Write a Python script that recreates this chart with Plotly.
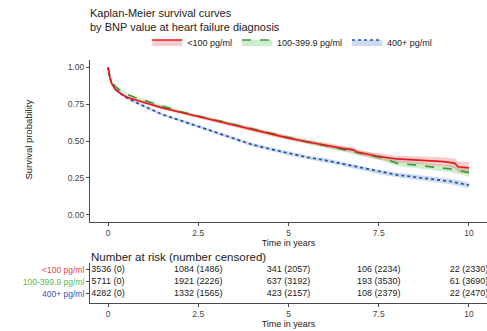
import plotly.graph_objects as go

W, H = 487, 331

# ---------------- data ----------------
groups = ["<100 pg/ml", "100-399.9 pg/ml", "400+ pg/ml"]

time_red = [0, 0.05, 0.1, 0.2, 0.3, 0.5, 0.75, 1, 1.5, 2, 2.5, 3, 3.5, 4, 4.5, 5, 5.5, 6,
            6.5, 6.8, 6.9, 7.2, 7.5, 8, 8.5, 9, 9.3, 9.6, 9.7, 10]
surv_red = [1.00, 0.93, 0.89, 0.85, 0.83, 0.80, 0.78, 0.76, 0.725, 0.695, 0.665, 0.635, 0.605,
            0.575, 0.545, 0.52, 0.495, 0.47, 0.45, 0.44, 0.425, 0.41, 0.395, 0.378, 0.372,
            0.366, 0.36, 0.35, 0.325, 0.318]
ci_red = [0.0, 0.008, 0.008, 0.008, 0.008, 0.009, 0.009, 0.01, 0.01, 0.011, 0.011, 0.012, 0.012,
          0.013, 0.013, 0.014, 0.015, 0.016, 0.017, 0.018, 0.018, 0.019, 0.02, 0.022, 0.025,
          0.028, 0.03, 0.033, 0.036, 0.04]

time_green = [0, 0.05, 0.1, 0.2, 0.3, 0.5, 0.75, 1, 1.5, 2, 2.5, 3, 3.5, 4, 4.5, 5, 5.5, 6,
              6.5, 7, 7.5, 8, 8.5, 9, 9.5, 9.8, 10]
surv_green = [1.00, 0.94, 0.91, 0.87, 0.85, 0.82, 0.795, 0.775, 0.735, 0.70, 0.67, 0.64, 0.61,
              0.58, 0.55, 0.52, 0.495, 0.47, 0.445, 0.42, 0.39, 0.35, 0.335, 0.322, 0.31,
              0.295, 0.285]
ci_green = [0.0, 0.006, 0.006, 0.006, 0.006, 0.007, 0.007, 0.008, 0.008, 0.009, 0.009, 0.01,
            0.01, 0.011, 0.011, 0.012, 0.013, 0.014, 0.015, 0.016, 0.017, 0.019, 0.02, 0.021,
            0.023, 0.025, 0.026]

time_blue = [0, 0.05, 0.1, 0.2, 0.3, 0.5, 0.75, 1, 1.5, 2, 2.5, 3, 3.5, 4, 4.5, 5, 5.5, 6,
             6.5, 7, 7.5, 8, 8.5, 9, 9.5, 10]
surv_blue = [1.00, 0.93, 0.895, 0.855, 0.83, 0.795, 0.765, 0.735, 0.68, 0.64, 0.60, 0.555,
             0.515, 0.475, 0.445, 0.415, 0.39, 0.37, 0.345, 0.318, 0.29, 0.27, 0.255, 0.24,
             0.225, 0.20]
ci_blue = [0.0, 0.007, 0.007, 0.007, 0.007, 0.008, 0.008, 0.009, 0.009, 0.01, 0.01, 0.011,
           0.011, 0.012, 0.012, 0.013, 0.013, 0.014, 0.014, 0.015, 0.015, 0.016, 0.017, 0.018,
           0.019, 0.02]

risk_times = [0, 2.5, 5, 7.5, 10]
at_risk_red = [3536, 1084, 341, 106, 22]
censored_red = [0, 1486, 2057, 2234, 2330]
at_risk_green = [5711, 1921, 637, 193, 61]
censored_green = [0, 2226, 3192, 3530, 3690]
at_risk_blue = [4282, 1332, 423, 108, 22]
censored_blue = [0, 1565, 2157, 2379, 2470]

x_ticks = [0, 2.5, 5, 7.5, 10]
x_ticklabels = ["0", "2.5", "5", "7.5", "10"]
y_ticks = [0, 0.25, 0.5, 0.75, 1.0]
y_ticklabels = ["0.00", "0.25", "0.50", "0.75", "1.00"]

# ---------------- styles ----------------
FONT = "Liberation Sans, Arial, sans-serif"
line_cols = ["#E41A1C", "#3C9A3C", "#2C4C9C"]
fill_cols = ["rgba(228,26,28,0.22)", "rgba(77,190,74,0.28)", "rgba(70,130,200,0.28)"]
label_cols = ["#E8474A", "#55BB55", "#3557B8"]
dashes = ["solid", "dash", "dot"]
AX = "#4a4a4a"

def py(p):
    return 1 - p / H

series = [
    (time_red, surv_red, ci_red),
    (time_green, surv_green, ci_green),
    (time_blue, surv_blue, ci_blue),
]

fig = go.Figure()

# confidence bands
for i in [2, 1, 0]:
    t, s, c = series[i]
    up = [a + b for a, b in zip(s, c)]
    lo = [a - b for a, b in zip(s, c)]
    fig.add_trace(go.Scatter(x=t, y=up, mode="lines", line=dict(width=0, color=line_cols[i]),
                             showlegend=False, hoverinfo="skip", xaxis="x", yaxis="y"))
    fig.add_trace(go.Scatter(x=t, y=lo, mode="lines", line=dict(width=0, color=line_cols[i]),
                             fill="tonexty", fillcolor=fill_cols[i], showlegend=False,
                             hoverinfo="skip", xaxis="x", yaxis="y"))

# survival lines
for i in [2, 1, 0]:
    t, s, c = series[i]
    fig.add_trace(go.Scatter(x=t, y=s, mode="lines",
                             line=dict(color=line_cols[i], width=1.7, dash=dashes[i]),
                             showlegend=False, xaxis="x", yaxis="y"))

# legend entries
for i in range(3):
    fig.add_trace(go.Scatter(x=[None], y=[None], mode="lines", name=groups[i],
                             line=dict(color=line_cols[i], width=1.6, dash=dashes[i]),
                             fill="toself", fillcolor=fill_cols[i], xaxis="x", yaxis="y"))

# risk table
risk = [(at_risk_red, censored_red), (at_risk_green, censored_green), (at_risk_blue, censored_blue)]
row_y = [3, 2, 1]
for i in range(3):
    a, c = risk[i]
    fig.add_trace(go.Scatter(x=risk_times, y=[row_y[i]] * len(risk_times), mode="text",
                             text=[f"{n} ({m})" for n, m in zip(a, c)],
                             textfont=dict(family=FONT, size=9, color="#222"),
                             textposition="middle center", showlegend=False,
                             xaxis="x2", yaxis="y2", cliponaxis=True))

axis_common = dict(showline=True, linecolor=AX, linewidth=1, ticks="outside", ticklen=3,
                   tickcolor=AX, showgrid=False, zeroline=False,
                   tickfont=dict(family=FONT, size=8.5, color="#444"))

fig.update_layout(
    width=W, height=H, margin=dict(l=0, r=0, t=0, b=0),
    paper_bgcolor="white", plot_bgcolor="white",
    font=dict(family=FONT, color="#222"),
    title=dict(text="Kaplan-Meier survival curves<br>by BNP value at heart failure diagnosis",
               x=90 / W, xanchor="left", xref="paper", y=py(17), yanchor="middle",
               yref="container", font=dict(family=FONT, size=11, color="#222")),
    legend=dict(orientation="h", x=0.6, xanchor="center", y=py(42), yanchor="middle",
                font=dict(family=FONT, size=9, color="#222"), itemwidth=30,
                traceorder="normal", bgcolor="rgba(0,0,0,0)"),
    xaxis=dict(domain=[90 / W, 1], range=[-0.5, 10.5], tickvals=x_ticks, ticktext=x_ticklabels,
               anchor="y",
               title=dict(text="Time in years", font=dict(family=FONT, size=9, color="#222"),
                          standoff=2),
               **axis_common),
    yaxis=dict(domain=[py(222), py(60)], range=[-0.05, 1.05], tickvals=y_ticks,
               ticktext=y_ticklabels, anchor="x", **axis_common),
    xaxis2=dict(domain=[90 / W, 1], range=[-0.5, 10.5], tickvals=x_ticks, ticktext=x_ticklabels,
                anchor="y2",
                title=dict(text="Time in years", font=dict(family=FONT, size=9, color="#222"),
                           standoff=2),
                **axis_common),
    yaxis2=dict(domain=[py(303), py(263)], range=[0.25, 3.58], tickvals=row_y,
                ticktext=[f"<span style='color:{label_cols[i]}'>{groups[i]}</span>"
                          for i in range(3)],
                anchor="x2", **axis_common),
)

fig.add_annotation(text="Survival probability", textangle=-90, x=20 / W, y=py(140),
                   xref="paper", yref="paper", showarrow=False,
                   font=dict(family=FONT, size=9.5, color="#222"))
fig.add_annotation(text="Number at risk (number censored)", x=89 / W, y=py(257),
                   xref="paper", yref="paper", xanchor="left", yanchor="middle",
                   showarrow=False, font=dict(family=FONT, size=11.5, color="#222"))

fig.write_html("out.html")
